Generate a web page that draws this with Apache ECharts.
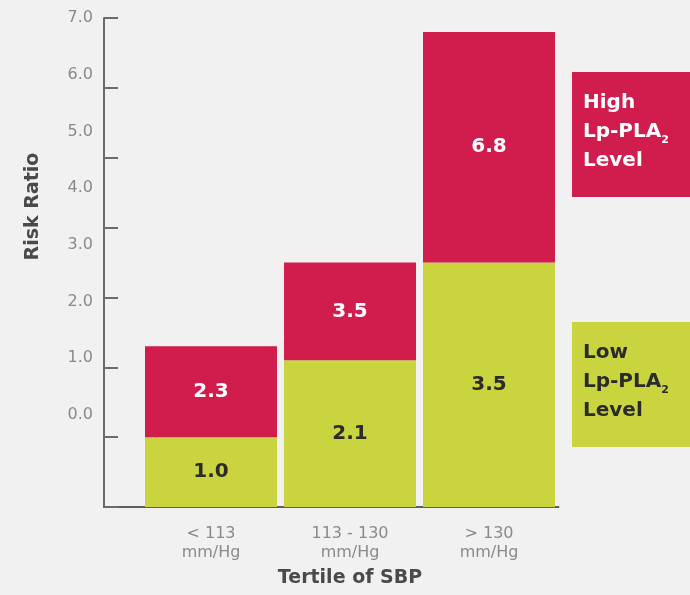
<!DOCTYPE html>
<html>
<head>
<meta charset="utf-8">
<script src="https://cdn.jsdelivr.net/npm/echarts@6/dist/echarts.min.js"></script>
<style>
  html, body { margin: 0; padding: 0; background: #F1F1F1; }
  #riskChart { width: 690px; height: 595px; }
</style>
</head>
<body>
<div id="riskChart"></div>
<script>
var categories = ['< 113\nmm/Hg', '113 - 130\nmm/Hg', '> 130\nmm/Hg'];
var lowValues = [1.0, 2.1, 3.5];      // Low Lp-PLA2 level
var highTotals = [2.3, 3.5, 6.8];     // High Lp-PLA2 level (top of bar)
var yTickLabels = [0, 1, 2, 3, 4, 5, 6, 7];

var RED = '#D01D4D';
var GREEN = '#C9D43E';
var highName = 'High Lp-PLA2 Level';
var lowName = 'Low Lp-PLA2 Level';

// red part sits on top of the green one
var highPart = highTotals.map(function (v, i) { return +(v - lowValues[i]).toFixed(2); });

var chartDom = document.getElementById('riskChart');
var myChart = echarts.init(chartDom);

function legendBox(color, textColor) {
  return {
    backgroundColor: color,
    color: textColor,
    fontFamily: 'DejaVu Sans',
    fontWeight: 'bold',
    fontSize: 20,
    lineHeight: 29,
    width: 130,
    height: 93,
    padding: [16, 0, 16, 11],
    rich: {
      sub: {
        color: textColor,
        fontFamily: 'DejaVu Sans',
        fontWeight: 'bold',
        fontSize: 11,
        lineHeight: 9,
        verticalAlign: 'bottom'
      }
    }
  };
}

var option = {
  backgroundColor: '#F1F1F1',
  animation: false,
  grid: [
    { left: 141.5, right: 131.5, top: 18, bottom: 88 },
    { left: 104, right: 131.5, top: 18, bottom: 88 }
  ],
  legend: [
    {
      data: [{ name: highName, icon: 'none' }],
      left: 567, top: 72, padding: 0, itemWidth: 0, itemGap: 0,
      selectedMode: false,
      formatter: function () { return 'High\nLp-PLA{sub|2}\nLevel'; },
      textStyle: legendBox(RED, '#ffffff')
    },
    {
      data: [{ name: lowName, icon: 'none' }],
      left: 567, top: 322, padding: 0, itemWidth: 0, itemGap: 0,
      selectedMode: false,
      formatter: function () { return 'Low\nLp-PLA{sub|2}\nLevel'; },
      textStyle: legendBox(GREEN, '#2b2b2b')
    }
  ],
  xAxis: [
    {
      type: 'category',
      gridIndex: 0,
      data: categories,
      axisLine: { show: false },
      axisTick: { show: false },
      axisLabel: {
        color: '#8a8a8a',
        fontFamily: 'DejaVu Sans',
        fontSize: 16,
        lineHeight: 19,
        margin: 17
      },
      name: 'Tertile of SBP',
      nameLocation: 'middle',
      nameGap: 62,
      nameTextStyle: {
        color: '#4a4a4a',
        fontFamily: 'DejaVu Sans',
        fontWeight: 'bold',
        fontSize: 19
      }
    },
    {
      type: 'value',
      gridIndex: 1,
      min: 0,
      max: 1,
      axisLine: { show: true, lineStyle: { color: '#5f5f5f', width: 2 } },
      axisTick: { show: false },
      axisLabel: { show: false },
      splitLine: { show: false }
    }
  ],
  yAxis: [
    {
      type: 'value',
      gridIndex: 0,
      min: 0,
      max: 7,
      show: false
    },
    {
      type: 'value',
      gridIndex: 1,
      position: 'left',
      offset: 0,
      min: 0,
      max: 7,
      interval: 1,
      axisLine: { show: true, lineStyle: { color: '#6b6b6b', width: 2 } },
      axisTick: { show: true, inside: true, length: 14, lineStyle: { color: '#6b6b6b', width: 2 } },
      axisLabel: { show: false },
      splitLine: { show: false }
    },
    {
      // labels are printed with their own spacing in the original
      type: 'value',
      gridIndex: 1,
      position: 'left',
      offset: 0,
      min: -1.622,
      max: 7,
      axisLine: { show: false },
      axisTick: { show: false },
      splitLine: { show: false },
      axisLabel: {
        customValues: yTickLabels,
        formatter: function (v) { return v.toFixed(1); },
        color: '#8a8a8a',
        fontFamily: 'DejaVu Sans',
        fontSize: 16,
        margin: 11
      },
      name: 'Risk Ratio',
      nameLocation: 'middle',
      nameGap: 61,
      nameTextStyle: {
        color: '#4a4a4a',
        fontFamily: 'DejaVu Sans',
        fontWeight: 'bold',
        fontSize: 19,
        padding: [0, 0, 0, 112]
      }
    }
  ],
  series: [
    {
      name: lowName,
      type: 'bar',
      stack: 'risk',
      xAxisIndex: 0,
      yAxisIndex: 0,
      barWidth: 132,
      itemStyle: { color: GREEN },
      label: {
        show: true,
        position: 'inside',
        color: '#2b2b2b',
        fontFamily: 'DejaVu Sans',
        fontWeight: 'bold',
        fontSize: 20,
        formatter: function (p) { return lowValues[p.dataIndex].toFixed(1); }
      },
      data: lowValues
    },
    {
      name: highName,
      type: 'bar',
      stack: 'risk',
      xAxisIndex: 0,
      yAxisIndex: 0,
      barWidth: 132,
      itemStyle: { color: RED },
      label: {
        show: true,
        position: 'inside',
        color: '#ffffff',
        fontFamily: 'DejaVu Sans',
        fontWeight: 'bold',
        fontSize: 20,
        formatter: function (p) { return highTotals[p.dataIndex].toFixed(1); }
      },
      data: highPart
    }
  ]
};

myChart.setOption(option);
</script>
</body>
</html>
